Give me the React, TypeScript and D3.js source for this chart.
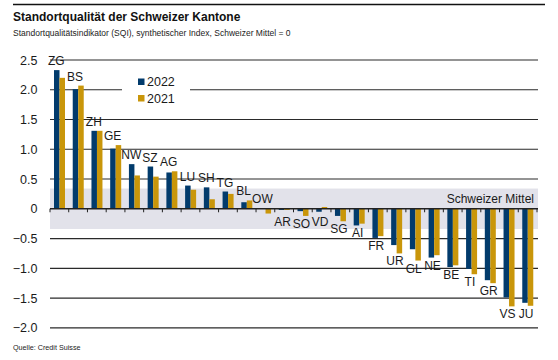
import React from 'react';
import * as d3 from 'd3';

const cantons = ['ZG','BS','ZH','GE','NW','SZ','AG','LU','SH','TG','BL','OW','AR','SO','VD','SG','AI','FR','UR','GL','NE','BE','TI','GR','VS','JU'];
const sqi2022 = [2.33,2.01,1.31,1.01,0.75,0.71,0.61,0.39,0.36,0.29,0.11,0.01,-0.02,-0.04,-0.05,-0.12,-0.28,-0.49,-0.61,-0.68,-0.82,-0.98,-1.01,-1.20,-1.49,-1.58];
const sqi2021 = [2.20,2.07,1.31,1.07,0.56,0.54,0.63,0.32,0.16,0.25,0.14,-0.08,-0.02,-0.12,0.03,-0.21,-0.25,-0.46,-0.75,-0.87,-0.78,-0.95,-1.10,-1.25,-1.64,-1.63];
const seriesNames = ['2022','2021'];
const yTicks = [2.5,2.0,1.5,1.0,0.5,0,-0.5,-1.0,-1.5,-2.0];
const bandRange = [-0.34, 0.34];
const title = 'Standortqualität der Schweizer Kantone';
const subtitle = 'Standortqualitätsindikator (SQI), synthetischer Index, Schweizer Mittel = 0';
const source = 'Quelle: Credit Suisse';
const bandLabel = 'Schweizer Mittel';

const BLUE = '#023b6c';
const GOLD = '#c9960a';
const FONT = '"Liberation Sans", Arial, Helvetica, sans-serif';

export default function App() {
  const W = 558, H = 360;
  const x = d3.scaleBand<string>().domain(cantons).range([50, 537]).padding(0);
  const xs = d3.scaleBand<string>().domain(seriesNames).range([4, 15]).padding(0);
  const y = d3.scaleLinear().domain([-2, 2.5]).range([327.8, 60]);
  const colors = [BLUE, GOLD];
  const data = [sqi2022, sqi2021];
  const fmt = (v: number) => (v === 0 ? '0' : d3.format('.1f')(v));

  return (
    <svg width={W} height={H} style={{ position: 'absolute', left: 0, top: 0, background: '#fff' }} fontFamily={FONT}>
      <rect x={0} y={0} width={W} height={H} fill="#fff" />
      <line x1={13} x2={545} y1={4.5} y2={4.5} stroke="#111" strokeWidth={1.6} />
      <text x={13} y={21} fontSize={12} fontWeight="bold" fill="#111">{title}</text>
      <text x={13} y={36} fontSize={8.5} fill="#222">{subtitle}</text>

      {/* band */}
      <rect x={50} width={538 - 50} y={y(bandRange[1])} height={y(bandRange[0]) - y(bandRange[1])} fill="#e2e2ea" />

      {/* gridlines */}
      {yTicks.filter(t => t !== 0).map(t => (
        <line key={t} x1={50} x2={538} y1={y(t)} y2={y(t)} stroke="#2a2a2a" strokeWidth={1.2} />
      ))}
      {/* y labels */}
      {yTicks.map(t => (
        <text key={'l' + t} x={37.5} y={y(t)} dy="0.36em" textAnchor="end" fontSize={12.5} fill="#1a1a1a">{fmt(t)}</text>
      ))}

      {/* legend */}
      <rect x={122} y={72} width={68} height={36} fill="#fff" />
      {seriesNames.map((s, i) => (
        <g key={s}>
          <rect x={138} y={78.5 + i * 16.5} width={6.5} height={6.5} fill={colors[i]} />
          <text x={147} y={86 + i * 16.5} fontSize={12.5} fill="#1a1a1a">{s}</text>
        </g>
      ))}

      {/* bars */}
      {data.map((vals, si) => vals.map((v, i) => {
        const c = cantons[i];
        const x0 = (x(c) ?? 0) + (xs(seriesNames[si]) ?? 0);
        const y1 = y(Math.max(0, v));
        const y2 = y(Math.min(0, v));
        return <rect key={si + c} x={x0} y={y1} width={xs.bandwidth()} height={Math.max(0, y2 - y1)} fill={colors[si]} />;
      }))}

      {/* zero axis with ticks */}
      <line x1={50} x2={538} y1={y(0)} y2={y(0)} stroke="#222" strokeWidth={1.4} />
      {cantons.map(c => (
        <line key={'t' + c} x1={(x(c) ?? 0)} x2={(x(c) ?? 0)} y1={y(0)} y2={y(0) + 3.5} stroke="#222" strokeWidth={1} />
      ))}
      <line x1={x.range()[1]} x2={x.range()[1]} y1={y(0)} y2={y(0) + 3.5} stroke="#222" strokeWidth={1} />

      {/* canton labels: placed above for positive 2022 values, below otherwise */}
      {cantons.map((c, i) => {
        const a = sqi2022[i], b = sqi2021[i];
        const hi = Math.max(a, b), lo = Math.min(a, b);
        const cx = (x(c) ?? 0) + x.bandwidth() / 2;
        if (a > 0) {
          return <text key={'c' + c} x={cx - 3} y={y(hi) - 5} textAnchor="middle" fontSize={12} fill="#1a1a1a">{c}</text>;
        }
        return <text key={'c' + c} x={cx - 1.5} y={Math.max(y(lo) + 12, y(0) + 17)} textAnchor="middle" fontSize={12} fill="#1a1a1a">{c}</text>;
      })}

      <text x={534} y={203} textAnchor="end" fontSize={12} fill="#1a1a1a">{bandLabel}</text>
      <text x={13} y={350} fontSize={7.2} fill="#222">{source}</text>
    </svg>
  );
}
